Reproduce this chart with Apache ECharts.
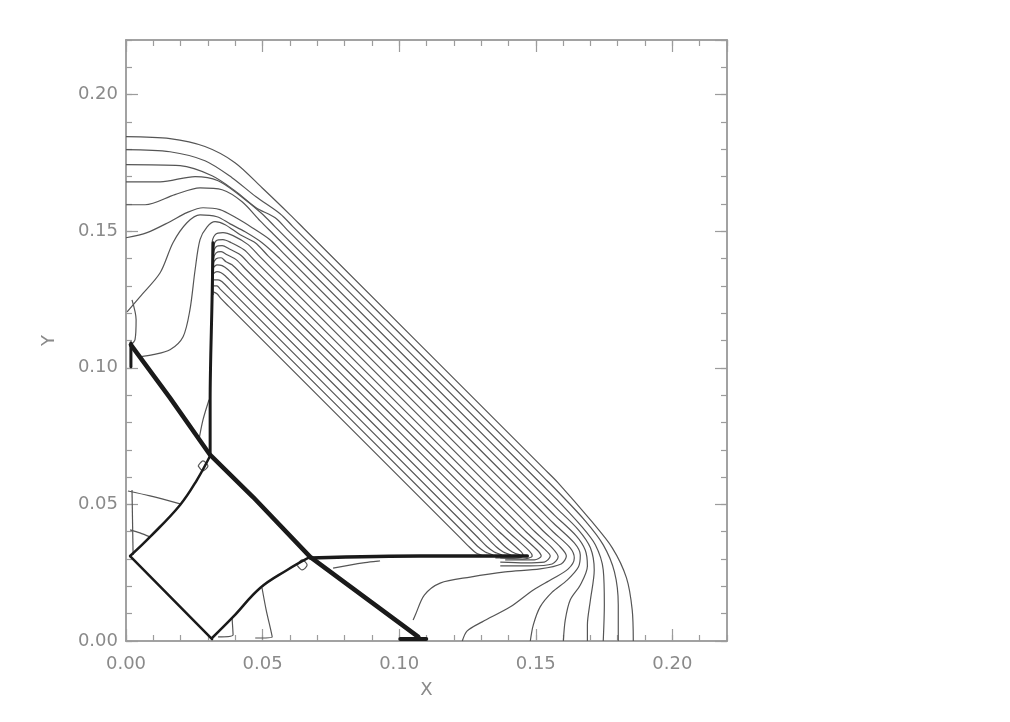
<!DOCTYPE html>
<html>
<head>
<meta charset="utf-8">
<script src="https://cdn.jsdelivr.net/npm/echarts@6/dist/echarts.min.js"></script>
<style>
  html, body { margin: 0; background: #fff; }
  #chart { width: 1010px; height: 722px; }
</style>
</head>
<body>
<div id="chart"></div>
<script>
// axis range (same for X and Y)
const axisMin = 0, axisMax = 0.22, majorStep = 0.05, minorStep = 0.01;

// thick shock fronts
const shockA = [[0.0018,0.1084],[0.0161,0.0890],[0.0308,0.0681],[0.0465,0.0527],[0.0674,0.0308],[0.1070,0.0015]];
const shockB = [[0.0319,0.1458],[0.0315,0.1249],[0.0308,0.0883],[0.0308,0.0681]];
const shockC = [[0.0674,0.0304],[0.1077,0.0311],[0.1469,0.0311]];
const diamondNW = [[0.0015,0.0311],[0.0088,0.0381],[0.0198,0.0498],[0.0260,0.0590],[0.0308,0.0678]];
const diamondSW = [[0.0015,0.0311],[0.0315,0.0007]];
const diamondSE = [[0.0315,0.0011],[0.0392,0.0088],[0.0491,0.0194],[0.0590,0.0260],[0.0667,0.0304]];
const shockFoot = [[0.1004,0.0007],[0.1099,0.0007]];
const wallShock = [[0.0018,0.1092],[0.0018,0.1004]];

// contour levels, outermost first
const contour01 = [[0,0.1846],[0.0161,0.1839],[0.0289,0.1810],[0.0399,0.1751],[0.0498,0.1659],[0.0601,0.1560],[0.0650,0.1511],[0.1530,0.0631],[0.1581,0.0580],[0.1700,0.0443],[0.1780,0.0341],[0.1832,0.0231],[0.1853,0.0114],[0.1857,0]];
const contour02 = [[0,0.1799],[0.0161,0.1791],[0.0289,0.1758],[0.0388,0.1696],[0.0476,0.1626],[0.0564,0.1564],[0.0610,0.1518],[0.1530,0.0598],[0.1578,0.0550],[0.1681,0.0440],[0.1747,0.0352],[0.1788,0.0253],[0.1802,0.0132],[0.1802,0]];
const contour03 = [[0,0.1744],[0.0198,0.1740],[0.0315,0.1703],[0.0403,0.1645],[0.0476,0.1586],[0.0546,0.1549],[0.0590,0.1505],[0.1525,0.0570],[0.1575,0.0520],[0.1663,0.0425],[0.1718,0.0352],[0.1747,0.0260],[0.1751,0.0132],[0.1747,0]];
const contour04 = [[0,0.1681],[0.0125,0.1681],[0.0253,0.1700],[0.0337,0.1685],[0.0418,0.1630],[0.0498,0.1564],[0.0545,0.1517],[0.1520,0.0542],[0.1572,0.0490],[0.1656,0.0407],[0.1700,0.0341],[0.1714,0.0260],[0.1700,0.0150],[0.1689,0.0059],[0.1689,0]];
const contour05 = [[0,0.1597],[0.0070,0.1597],[0.0179,0.1634],[0.0271,0.1659],[0.0352,0.1652],[0.0425,0.1608],[0.0491,0.1538],[0.0540,0.1489],[0.1515,0.0514],[0.1569,0.0460],[0.1648,0.0385],[0.1681,0.0333],[0.1689,0.0275],[0.1663,0.0205],[0.1626,0.0150],[0.1608,0.0077],[0.1601,0]];
const contour06 = [[0,0.1476],[0.0077,0.1495],[0.0161,0.1535],[0.0223,0.1568],[0.0282,0.1586],[0.0344,0.1579],[0.0403,0.1549],[0.0462,0.1513],[0.0527,0.1469],[0.0575,0.1421],[0.1510,0.0486],[0.1566,0.0430],[0.1641,0.0359],[0.1663,0.0315],[0.1656,0.0271],[0.1615,0.0223],[0.1560,0.0179],[0.1516,0.0125],[0.1491,0.0059],[0.1480,0]];
const contour07 = [[0.0004,0.1205],[0.0051,0.1260],[0.0125,0.1348],[0.0172,0.1458],[0.0223,0.1531],[0.0271,0.1560],[0.0333,0.1553],[0.0381,0.1527],[0.0436,0.1498],[0.0498,0.1458],[0.0564,0.1399],[0.0610,0.1353],[0.1505,0.0458],[0.1563,0.0400],[0.1626,0.0341],[0.1641,0.0304],[0.1619,0.0264],[0.1560,0.0227],[0.1491,0.0187],[0.1407,0.0125],[0.1304,0.0070],[0.1249,0.0037],[0.1231,0]];
const contour08 = [[0.0051,0.1040],[0.0099,0.1048],[0.0161,0.1066],[0.0209,0.1114],[0.0234,0.1212],[0.0253,0.1359],[0.0271,0.1469],[0.0297,0.1516],[0.0326,0.1535],[0.0363,0.1524],[0.0418,0.1487],[0.0473,0.1458],[0.0520,0.1410],[0.1490,0.0440],[0.1530,0.0400],[0.1590,0.0344],[0.1612,0.0311],[0.1593,0.0282],[0.1516,0.0264],[0.1388,0.0253],[0.1260,0.0234],[0.1150,0.0212],[0.1092,0.0168],[0.1059,0.0095],[0.1051,0.0077]];
const contour09 = [[0.0315,0.1341],[0.0315,0.1451],[0.0326,0.1487],[0.0355,0.1495],[0.0392,0.1484],[0.0447,0.1451],[0.0490,0.1407],[0.1460,0.0437],[0.1497,0.0400],[0.1560,0.0341],[0.1582,0.0308],[0.1560,0.0282],[0.1480,0.0275],[0.1370,0.0275]];
const contour10 = [[0.0315,0.1322],[0.0319,0.1432],[0.0330,0.1465],[0.0355,0.1469],[0.0385,0.1458],[0.0432,0.1432],[0.0470,0.1394],[0.1430,0.0434],[0.1464,0.0400],[0.1531,0.0337],[0.1553,0.0311],[0.1531,0.0289],[0.1462,0.0286],[0.1370,0.0289]];
const contour11 = [[0.0315,0.1304],[0.0319,0.1414],[0.0330,0.1443],[0.0352,0.1447],[0.0377,0.1436],[0.0418,0.1414],[0.0455,0.1377],[0.1400,0.0432],[0.1432,0.0400],[0.1505,0.0333],[0.1520,0.0311],[0.1495,0.0297],[0.1388,0.0297]];
const contour12 = [[0.0315,0.1286],[0.0319,0.1396],[0.0330,0.1421],[0.0348,0.1425],[0.0370,0.1414],[0.0403,0.1396],[0.0440,0.1359],[0.1370,0.0429],[0.1399,0.0400],[0.1476,0.0330],[0.1487,0.0311],[0.1451,0.0300],[0.1370,0.0304]];
const contour13 = [[0.0319,0.1267],[0.0319,0.1377],[0.0330,0.1399],[0.0348,0.1403],[0.0366,0.1388],[0.0388,0.1377],[0.0425,0.1341],[0.1340,0.0426],[0.1366,0.0400],[0.1447,0.0326],[0.1454,0.0311],[0.1414,0.0304],[0.1352,0.0304]];
const contour14 = [[0.0319,0.1366],[0.0333,0.1377],[0.0352,0.1374],[0.0374,0.1359],[0.0410,0.1323],[0.1350,0.0383],[0.1389,0.0344],[0.1414,0.0326],[0.1443,0.0315]];
const contour15 = [[0.0319,0.1344],[0.0333,0.1352],[0.0348,0.1348],[0.0363,0.1337],[0.0400,0.1300],[0.1320,0.0380],[0.1356,0.0344],[0.1381,0.0326],[0.1410,0.0315]];
const contour16 = [[0.0319,0.1322],[0.0337,0.1322],[0.0352,0.1315],[0.0390,0.1277],[0.1290,0.0377],[0.1323,0.0344],[0.1348,0.0326],[0.1377,0.0315]];
const contour17 = [[0.0319,0.1300],[0.0333,0.1300],[0.0344,0.1289],[0.0380,0.1254],[0.1255,0.0379],[0.1290,0.0344],[0.1315,0.0326],[0.1344,0.0315]];
const contour18 = [[0.0319,0.1278],[0.0333,0.1271],[0.0348,0.1253],[0.0380,0.1221],[0.1220,0.0381],[0.1257,0.0344],[0.1282,0.0322],[0.1311,0.0311]];

// small features near the walls and shock junctions
const loopJunction = [[0.0264,0.0641],[0.0282,0.0659],[0.0300,0.0641],[0.0282,0.0623],[0.0264,0.0641]];
const loopVertex = [[0.0626,0.0278],[0.0645,0.0297],[0.0663,0.0278],[0.0645,0.0260],[0.0626,0.0278]];
const wallUpper = [[0.0022,0.1249],[0.0037,0.1176],[0.0033,0.1103],[0.0018,0.1084]];
const wallLower = [[0.0022,0.0553],[0.0026,0.0315]];
const innerFlowA = [[0.0007,0.0549],[0.0088,0.0531],[0.0198,0.0502]];
const innerFlowB = [[0.0015,0.0407],[0.0051,0.0396],[0.0088,0.0381]];
const stemB = [[0.0267,0.0736],[0.0282,0.0810],[0.0304,0.0883]];
const footA = [[0.0498,0.0194],[0.0513,0.0114],[0.0535,0.0015],[0.0473,0.0011]];
const footB = [[0.0388,0.0088],[0.0392,0.0022],[0.0337,0.0015]];
const underC = [[0.0758,0.0267],[0.0868,0.0286],[0.0930,0.0293]];

const thinLines = [contour01, contour02, contour03, contour04, contour05, contour06, contour07, contour08, contour09,
  contour10, contour11, contour12, contour13, contour14, contour15, contour16, contour17, contour18,
  loopJunction, loopVertex, wallUpper, wallLower, innerFlowA, innerFlowB, stemB, footA, footB, underC];
const thickLines = [
  {data: shockA, width: 4.5, smooth: false},
  {data: shockB, width: 3, smooth: 0.3},
  {data: shockC, width: 3.5, smooth: 0.3},
  {data: diamondNW, width: 2.5, smooth: 0.4},
  {data: diamondSW, width: 2.5, smooth: false},
  {data: diamondSE, width: 2.5, smooth: 0.4},
  {data: shockFoot, width: 4, smooth: false},
  {data: wallShock, width: 3, smooth: false}
];

const chart = echarts.init(document.getElementById('chart'));

const grey = '#9c9c9c';
const labelStyle = {fontFamily: 'DejaVu Sans', fontSize: 18, color: '#8a8a8a'};

function frameAxis(position, step, tickLen, showLabel) {
  return {
    type: 'value',
    position: position,
    min: axisMin,
    max: axisMax,
    interval: step,
    axisLine: {show: true, onZero: false, lineStyle: {color: grey, width: 1.5}},
    axisTick: {show: true, inside: true, length: tickLen, lineStyle: {color: grey, width: 1.2}},
    axisLabel: {show: showLabel, showMaxLabel: false, formatter: v => v.toFixed(2)},
    splitLine: {show: false}
  };
}

const xMain = frameAxis('bottom', majorStep, 12, true);
xMain.axisLabel = Object.assign(xMain.axisLabel, labelStyle, {margin: 14});
xMain.name = 'X';
xMain.nameLocation = 'middle';
xMain.nameGap = 40;
xMain.nameTextStyle = labelStyle;

const yMain = frameAxis('left', majorStep, 12, true);
yMain.axisLabel = Object.assign(yMain.axisLabel, labelStyle, {margin: 8});
yMain.name = 'Y';
yMain.nameLocation = 'middle';
yMain.nameGap = 68;
yMain.nameTextStyle = labelStyle;

const series = [];
thinLines.forEach(line => {
  series.push({
    type: 'line', data: line, showSymbol: false, smooth: 0.3, silent: true,
    lineStyle: {color: '#555555', width: 1.2}
  });
});
thickLines.forEach(item => {
  series.push({
    type: 'line', data: item.data, showSymbol: false, smooth: item.smooth, silent: true,
    lineStyle: {color: '#1a1a1a', width: item.width, cap: 'round', join: 'round'}
  });
});

chart.setOption({
  animation: false,
  backgroundColor: '#ffffff',
  grid: {left: 126, top: 40, width: 601, height: 601},
  xAxis: [
    xMain,
    frameAxis('bottom', minorStep, 6, false),
    frameAxis('top', majorStep, 12, false),
    frameAxis('top', minorStep, 6, false)
  ],
  yAxis: [
    yMain,
    frameAxis('left', minorStep, 6, false),
    frameAxis('right', majorStep, 12, false),
    frameAxis('right', minorStep, 6, false)
  ],
  series: series
});
</script>
</body>
</html>
